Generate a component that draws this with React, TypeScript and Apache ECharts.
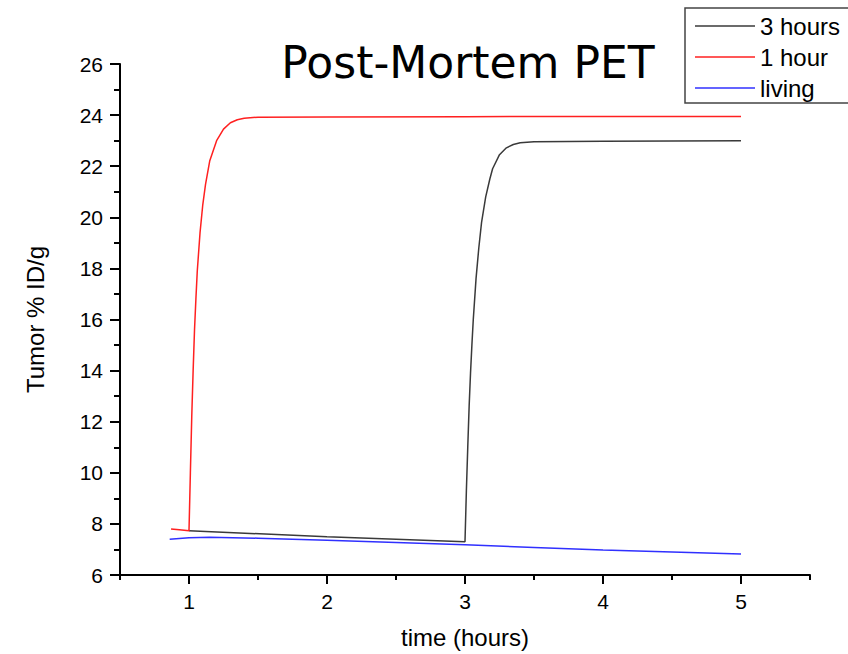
import React, { useEffect, useRef } from "react";
import * as echarts from "echarts";

const seriesNames = ["3 hours", "1 hour", "living"];
const seriesColors = ["#3a3a3a", "#ff2020", "#3030ff"];

const threeHours: [number, number][] = [
  [1.0, 7.73], [2.0, 7.5], [3.0, 7.3], [3.01, 9.3], [3.02, 11.0], [3.03, 12.6],
  [3.04, 13.9], [3.05, 15.0], [3.06, 16.0], [3.08, 17.6], [3.1, 18.8], [3.12, 19.8],
  [3.15, 20.8], [3.18, 21.5], [3.2, 21.9], [3.25, 22.45], [3.3, 22.72], [3.35, 22.85],
  [3.4, 22.92], [3.5, 22.96], [4.0, 22.98], [5.0, 23.0],
];

const oneHour: [number, number][] = [
  [0.87, 7.8], [0.93, 7.77], [1.0, 7.73], [1.01, 10.0], [1.02, 12.2], [1.03, 14.0],
  [1.04, 15.6], [1.05, 16.8], [1.06, 17.9], [1.08, 19.4], [1.1, 20.5], [1.12, 21.3],
  [1.15, 22.2], [1.2, 23.0], [1.25, 23.45], [1.3, 23.7], [1.35, 23.82], [1.4, 23.88],
  [1.5, 23.92], [2.0, 23.93], [3.0, 23.94], [4.0, 23.95], [5.0, 23.95],
];

const living: [number, number][] = [
  [0.86, 7.4], [1.0, 7.46], [1.15, 7.48], [1.5, 7.44], [2.0, 7.36], [2.5, 7.27],
  [3.0, 7.18], [3.5, 7.08], [4.0, 6.98], [4.5, 6.9], [5.0, 6.82],
];

const xMajorTicks = [1, 2, 3, 4, 5];

export default function App() {
  const ref = useRef<HTMLDivElement>(null);
  useEffect(() => {
    if (!ref.current) return;
    const chart = echarts.init(ref.current, null, { renderer: "svg" });
    const sans = "'Liberation Sans', Arial, sans-serif";
    const axisLine = { show: true, lineStyle: { color: "#000", width: 2 } };
    chart.setOption({
      animation: false,
      backgroundColor: "#fff",
      textStyle: { fontFamily: sans, color: "#000" },
      title: {
        text: "Post-Mortem PET",
        left: 463,
        textAlign: "center",
        top: 35,
        textStyle: { fontFamily: "'DejaVu Sans', Verdana, sans-serif", fontSize: 44, fontWeight: "normal", color: "#000" },
      },
      legend: {
        orient: "vertical",
        left: 685,
        top: 8,
        padding: [6, 20, 3, 10],
        itemWidth: 60,
        itemHeight: 14,
        itemGap: 7,
        icon: "path://M0,6.3 L60,6.3 L60,7.7 L0,7.7 Z",
        borderColor: "#444",
        borderWidth: 1.5,
        data: seriesNames,
        textStyle: { fontFamily: sans, fontSize: 24, color: "#000" },
      },
      grid: { left: 120, right: 38, top: 64, bottom: 78 },
      xAxis: [
        {
          type: "value",
          min: 0.5,
          max: 5.5,
          interval: 0.5,
          position: "bottom",
          axisLine,
          splitLine: { show: false },
          axisTick: { show: true, length: 5, lineStyle: { color: "#000", width: 2 } },
          axisLabel: {
            fontSize: 21,
            fontFamily: sans,
            color: "#000",
            margin: 16,
            formatter: (v: number) => (Number.isInteger(v) && xMajorTicks.includes(v) ? String(v) : ""),
          },
          name: "time (hours)",
          nameLocation: "middle",
          nameGap: 50,
          nameTextStyle: { fontSize: 24, color: "#000", fontFamily: sans },
        },
        {
          type: "value",
          min: 0.5,
          max: 5.5,
          interval: 0.5,
          position: "bottom",
          offset: 0,
          axisLine: { show: false },
          splitLine: { show: false },
          axisTick: { show: true, length: 9, customValues: xMajorTicks, lineStyle: { color: "#000", width: 2 } },
          axisLabel: { show: false },
        },
      ],
      yAxis: {
        type: "value",
        min: 6,
        max: 26,
        interval: 2,
        axisLine,
        splitLine: { show: false },
        axisTick: { show: true, length: 10, lineStyle: { color: "#000", width: 2 } },
        minorTick: { show: true, splitNumber: 2, length: 6, lineStyle: { color: "#000", width: 2 } },
        axisLabel: { fontSize: 21, fontFamily: sans, color: "#000", margin: 17 },
        name: "Tumor % ID/g",
        nameLocation: "middle",
        nameGap: 73,
        nameTextStyle: { fontSize: 24, color: "#000", fontFamily: sans },
      },
      series: [
        { name: seriesNames[0], type: "line", data: threeHours, symbol: "none", color: seriesColors[0], lineStyle: { width: 1.5, color: seriesColors[0] } },
        { name: seriesNames[1], type: "line", data: oneHour, symbol: "none", color: seriesColors[1], lineStyle: { width: 1.5, color: seriesColors[1] } },
        { name: seriesNames[2], type: "line", data: living, symbol: "none", color: seriesColors[2], lineStyle: { width: 1.5, color: seriesColors[2] } },
      ],
    });
    return () => chart.dispose();
  }, []);
  return <div ref={ref} style={{ width: 848, height: 654, position: "absolute", left: 0, top: 0 }} />;
}
